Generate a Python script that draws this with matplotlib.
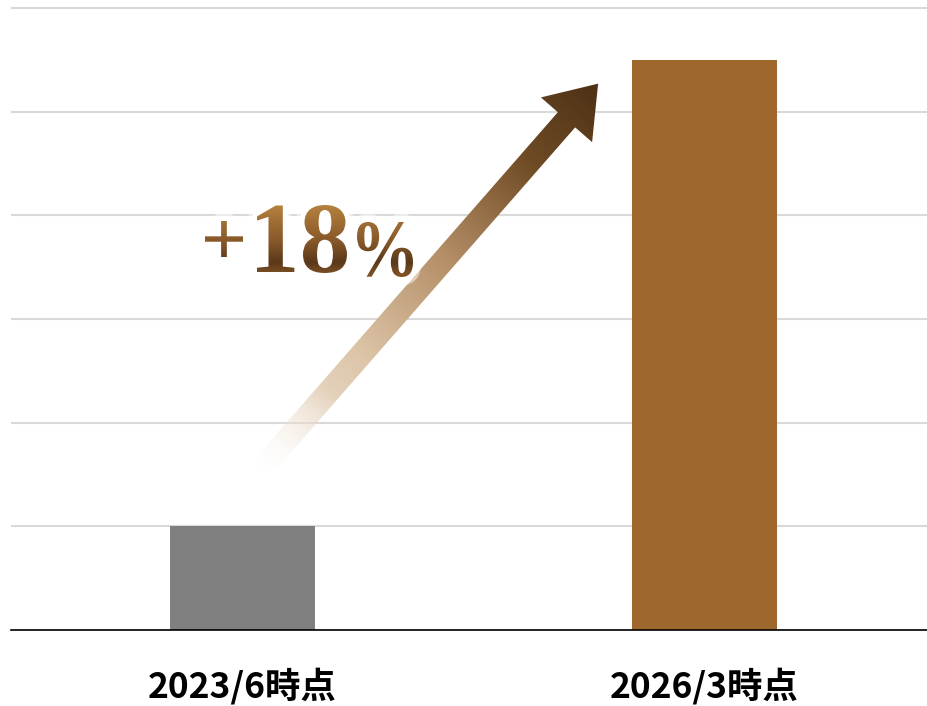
import numpy as np
import matplotlib
matplotlib.use("Agg")
import matplotlib.pyplot as plt
from matplotlib.colors import LinearSegmentedColormap
from matplotlib.font_manager import FontProperties
from matplotlib.patches import PathPatch, Polygon
from matplotlib.path import Path
from matplotlib.textpath import TextPath
from matplotlib.transforms import Affine2D

plt.rcParams['font.family'] = ['Noto Sans CJK JP', 'DejaVu Sans']

# --- data -------------------------------------------------------------------
periods = ['2023/6時点', '2026/3時点']
values = [1.0, 5.5]
bar_colors = ['#808080', '#9e672b']
growth_parts = ['+', '18', '%']

# growth arrow, in data units (from just above the first bar toward the second)
arrow_tail = (0.04, 1.55)
arrow_tip = (0.77, 5.27)

# --- figure -----------------------------------------------------------------
W, H, DPI = 927, 706, 100
fig = plt.figure(figsize=(W / DPI, H / DPI), dpi=DPI)

unit_px = 103.67
y_top = 6.05
ax = fig.add_axes([11 / W, 76 / H, 1 - 11 / W, y_top * unit_px / H])

x = np.arange(len(periods))
ax.bar(x, values, width=0.314, color=bar_colors, zorder=2)
ax.set_xlim(-0.501, 1.482)
ax.set_ylim(0, y_top)

ax.set_yticks(np.arange(0, 7))
ax.set_yticklabels([])
ax.yaxis.grid(True, color='#d9d9d9', linewidth=1.5)
ax.set_axisbelow(True)
ax.tick_params(axis='y', length=0)

ax.set_xticks(x, periods, fontsize=25.5, fontweight='bold')
ax.tick_params(axis='x', length=0, pad=27)

for side in ('top', 'left', 'right'):
    ax.spines[side].set_visible(False)
ax.spines['bottom'].set_color('black')
ax.spines['bottom'].set_linewidth(1.2)
ax.spines['bottom'].set_zorder(3)

# overlay in pixel coordinates for the gradient arrow and label
ov = fig.add_axes([0, 0, 1, 1], zorder=5)
ov.set_xlim(0, W)
ov.set_ylim(0, H)
ov.axis('off')

# --- gradient arrow ---------------------------------------------------------
tail = np.array(ax.transData.transform(arrow_tail))
tip = np.array(ax.transData.transform(arrow_tip))
vec = tip - tail
length = np.hypot(*vec)
u = vec / length
n = np.array([-u[1], u[0]])

shaft_hw, head_hw, head_len = 11.5, 34.0, 48.0
base = tip - u * head_len
arrow_pts = np.array([
    tail - n * shaft_hw,
    tail + n * shaft_hw,
    base + n * shaft_hw,
    base + n * head_hw,
    tip,
    base - n * head_hw,
    base - n * shaft_hw,
])
arrow_patch = Polygon(arrow_pts, closed=True, facecolor='none', edgecolor='none')
ov.add_patch(arrow_patch)

arrow_cmap = LinearSegmentedColormap.from_list('arrow', [
    (0.0, '#f5ede3'), (0.3, '#dcc4a7'), (0.55, '#b48e66'),
    (0.8, '#6f4b25'), (1.0, '#4d3116')])
x0, y0 = arrow_pts.min(axis=0) - 2
x1, y1 = arrow_pts.max(axis=0) + 2
gx, gy = np.meshgrid(np.linspace(x0, x1, 400), np.linspace(y0, y1, 400))
t = np.clip(((gx - tail[0]) * u[0] + (gy - tail[1]) * u[1]) / length, 0, 1)
rgba = arrow_cmap(t)
rgba[..., 3] = np.clip(t / 0.2, 0, 1) ** 1.3
im = ov.imshow(rgba, extent=(x0, x1, y0, y1), origin='lower',
               interpolation='bilinear', aspect='auto', zorder=2)
im.set_clip_path(arrow_patch)

# --- "+18%" label with vertical gradient ------------------------------------
serif = FontProperties(family='Liberation Serif', weight='bold')


def fitted_path(s, box):
    p = TextPath((0, 0), s, size=100, prop=serif)
    bb = p.get_extents()
    bx0, by0, bx1, by1 = box
    tr = (Affine2D().translate(-bb.x0, -bb.y0)
          .scale((bx1 - bx0) / bb.width, (by1 - by0) / bb.height)
          .translate(bx0, by0))
    return tr.transform_path(p)


label_boxes = [(205, 449, 243, 485), (257, 433, 347, 501), (357, 429, 413, 484)]
paths = [fitted_path(s, b) for s, b in zip(growth_parts, label_boxes)]
label_path = Path.make_compound_path(*paths)

for lw, a in ((12, 0.5), (7, 1.0)):
    ov.add_patch(PathPatch(label_path, facecolor='white', edgecolor='white',
                           linewidth=lw, alpha=a, zorder=3,
                           joinstyle='round'))
label_patch = PathPatch(label_path, facecolor='none', edgecolor='none', zorder=4)
ov.add_patch(label_patch)

text_cmap = LinearSegmentedColormap.from_list('label', [
    (0.0, '#8a5b2a'), (0.22, '#5a3819'), (0.5, '#87582a'), (1.0, '#b8843f')])
ly0, ly1 = 427, 503
grad = np.linspace(0, 1, 256)[:, None] * np.ones((1, 4))
im2 = ov.imshow(grad, cmap=text_cmap, extent=(200, 418, ly0, ly1),
                origin='lower', aspect='auto', zorder=4,
                interpolation='bilinear')
im2.set_clip_path(label_patch)

fig.savefig('out.png', dpi=DPI)
